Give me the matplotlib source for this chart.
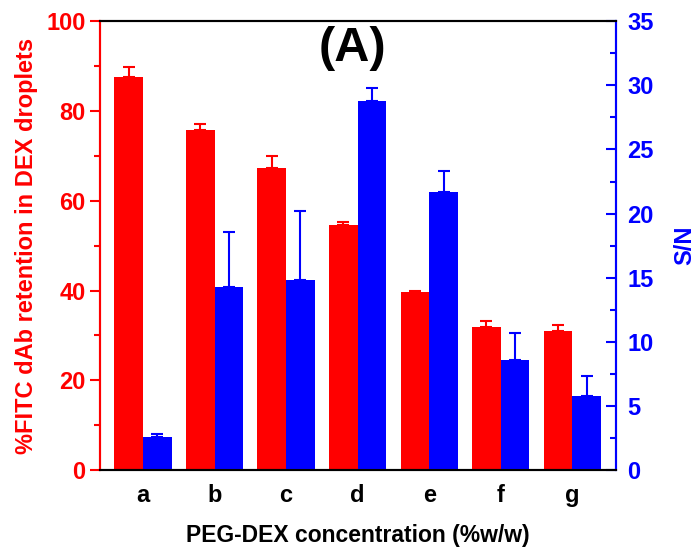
import matplotlib
matplotlib.use('Agg')
import matplotlib.pyplot as plt
from matplotlib.ticker import MultipleLocator
import numpy as np

categories = ['a', 'b', 'c', 'd', 'e', 'f', 'g']
retention = [87.5, 75.7, 67.3, 54.5, 39.7, 31.8, 31.0]
retention_err = [2.2, 1.3, 2.6, 0.8, 0.3, 1.4, 1.3]
sn_ratio = [2.6, 14.3, 14.8, 28.8, 21.7, 8.6, 5.8]
sn_err = [0.2, 4.3, 5.4, 1.0, 1.6, 2.1, 1.5]

RED = '#ff0000'
BLUE = '#0000ff'


def main():
    plt.rcParams['font.family'] = 'Liberation Sans'
    plt.rcParams['font.weight'] = 'bold'

    fig = plt.figure(figsize=(6.96, 5.59), dpi=100)
    ax = fig.add_axes([0.1437, 0.159, 0.7413, 0.803])
    ax2 = ax.twinx()

    x = np.arange(len(categories))
    width = 0.4

    ax.bar(x - width / 2, retention, width, color=RED,
           yerr=[np.zeros(len(retention)), retention_err],
           error_kw=dict(ecolor=RED, elinewidth=1.5, capsize=4.5, capthick=1.5))
    ax2.bar(x + width / 2, sn_ratio, width, color=BLUE,
            yerr=[np.zeros(len(sn_ratio)), sn_err],
            error_kw=dict(ecolor=BLUE, elinewidth=1.5, capsize=4.5, capthick=1.5))

    ax.set_xlim(-0.6, 6.61)
    ax.set_ylim(0, 100)
    ax2.set_ylim(0, 35)

    ax.set_xticks(x)
    ax.set_xticklabels(categories)
    ax.tick_params(axis='x', length=0, labelsize=17, pad=10)
    ax.yaxis.set_major_locator(MultipleLocator(20))
    ax.yaxis.set_minor_locator(MultipleLocator(10))
    ax.tick_params(axis='y', which='major', direction='out', length=7, width=1.5,
                   color=RED, labelcolor=RED, labelsize=17)
    ax.tick_params(axis='y', which='minor', direction='out', length=4, width=1.5, color=RED)

    ax2.yaxis.set_major_locator(MultipleLocator(5))
    ax2.yaxis.set_minor_locator(MultipleLocator(2.5))
    ax2.tick_params(axis='y', which='major', direction='in', length=7, width=1.5,
                    color=BLUE, labelcolor=BLUE, labelsize=17, pad=8)
    ax2.tick_params(axis='y', which='minor', direction='in', length=4, width=1.5, color=BLUE)

    for a in (ax, ax2):
        for s in a.spines.values():
            s.set_linewidth(1.5)
        a.spines['left'].set_color(RED)
        a.spines['right'].set_color(BLUE)
        a.spines['top'].set_color('black')
        a.spines['bottom'].set_color('black')

    ax.set_ylabel('%FITC dAb retention in DEX droplets', color=RED, fontsize=17,
                  fontweight='bold', labelpad=6)
    ax2.set_ylabel('S/N', color=BLUE, fontsize=17, fontweight='bold', labelpad=14)
    ax.set_xlabel('PEG-DEX concentration (%w/w)', fontsize=16.5, fontweight='bold', labelpad=12)

    ax.text(0.49, 0.94, '(A)', transform=ax.transAxes, ha='center', va='center',
            fontsize=35, fontweight='bold', color='black')

    fig.savefig('out.png', dpi=100)


if __name__ == '__main__':
    main()
